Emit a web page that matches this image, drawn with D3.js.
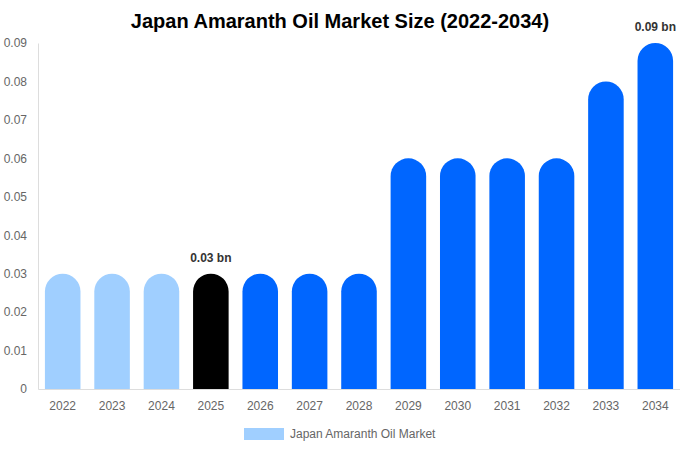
<!DOCTYPE html>
<html>
<head>
<meta charset="utf-8">
<script src="https://cdn.jsdelivr.net/npm/d3@7"></script>
<style>
  body { margin: 0; background: #fff; }
  svg { font-family: "Liberation Sans", Arial, sans-serif; }
</style>
</head>
<body>
<div id="chart"></div>
<script>
// Data
var years = ["2022", "2023", "2024", "2025", "2026", "2027", "2028",
             "2029", "2030", "2031", "2032", "2033", "2034"];
var values = [0.03, 0.03, 0.03, 0.03, 0.03, 0.03, 0.03,
              0.06, 0.06, 0.06, 0.06, 0.08, 0.09];
var yTicks = [0, 0.01, 0.02, 0.03, 0.04, 0.05, 0.06, 0.07, 0.08, 0.09];
var labelled = ["2025", "2034"];
var legendLabel = "Japan Amaranth Oil Market";

var width = 680,
    height = 450,
    margin = {top: 43, right: 0, bottom: 61, left: 38};

var svg = d3.select("#chart").append("svg")
    .attr("width", width)
    .attr("height", height);

// Title
svg.append("text")
    .attr("x", width / 2)
    .attr("y", 28)
    .attr("text-anchor", "middle")
    .attr("font-size", "20px")
    .attr("font-weight", "bold")
    .attr("fill", "#000")
    .text("Japan Amaranth Oil Market Size (2022-2034)");

var x = d3.scaleBand()
    .domain(years)
    .range([margin.left, width - margin.right])
    .paddingInner(0.28)
    .paddingOuter(0.14);

var y = d3.scaleLinear()
    .domain([0, 0.09])
    .range([height - margin.bottom, margin.top]);

function colorFor(year) {
    if (year < "2025") return "#a0cfff";
    if (year === "2025") return "#000000";
    return "#0066ff";
}

// Bars with fully rounded tops
function barPath(d, i) {
    var x0 = x(years[i]), w = x.bandwidth(), r = w / 2;
    var top = y(d), bottom = y(0);
    return "M" + x0 + "," + bottom +
        "L" + x0 + "," + (top + r) +
        "A" + r + "," + r + " 0 0 1 " + (x0 + w) + "," + (top + r) +
        "L" + (x0 + w) + "," + bottom + "Z";
}

svg.selectAll(".bar")
    .data(values)
    .enter().append("path")
    .attr("class", "bar")
    .attr("d", barPath)
    .attr("fill", function(d, i) { return colorFor(years[i]); });

// Y axis
var yAxis = svg.append("g")
    .attr("transform", "translate(" + margin.left + ",0)")
    .call(d3.axisLeft(y).tickValues(yTicks).tickSize(0).tickPadding(11)
        .tickFormat(function(d) { return d === 0 ? "0" : d3.format(".2f")(d); }));
yAxis.select(".domain").attr("stroke", "#ddd");
yAxis.selectAll("text").attr("fill", "#666").attr("font-size", "12px")
    .attr("font-family", "Liberation Sans, Arial, sans-serif");

// X axis
var xAxis = svg.append("g")
    .attr("transform", "translate(0," + y(0) + ")")
    .call(d3.axisBottom(x).tickSize(0).tickPadding(12));
xAxis.select(".domain").attr("stroke", "#ddd");
xAxis.selectAll("text").attr("fill", "#666").attr("font-size", "12px")
    .attr("font-family", "Liberation Sans, Arial, sans-serif");

// Value labels
svg.selectAll(".value-label")
    .data(values.map(function(v, i) { return {year: years[i], value: v}; })
        .filter(function(d) { return labelled.indexOf(d.year) >= 0; }))
    .enter().append("text")
    .attr("class", "value-label")
    .attr("x", function(d) { return x(d.year) + x.bandwidth() / 2; })
    .attr("y", function(d) { return y(d.value) - 12; })
    .attr("text-anchor", "middle")
    .attr("font-size", "12px")
    .attr("font-weight", "bold")
    .attr("fill", "#333")
    .text(function(d) { return d.value.toFixed(2) + " bn"; });

// Legend
var legend = svg.append("g").attr("transform", "translate(244,428)");
legend.append("rect")
    .attr("width", 40)
    .attr("height", 12)
    .attr("fill", "#a0cfff");
legend.append("text")
    .attr("x", 46)
    .attr("y", 10)
    .attr("font-size", "12px")
    .attr("fill", "#666")
    .text(legendLabel);
</script>
</body>
</html>
